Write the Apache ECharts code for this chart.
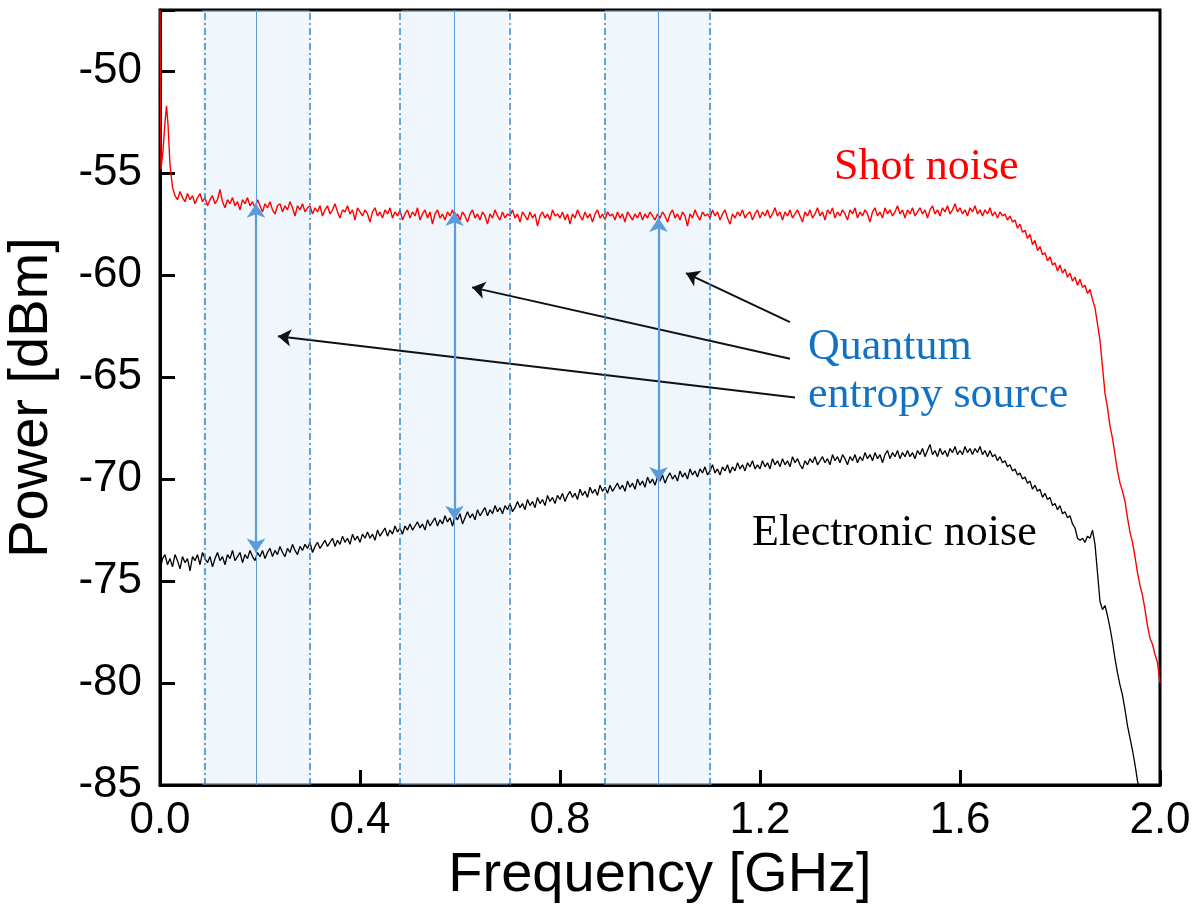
<!DOCTYPE html>
<html lang="en">
<head>
<meta charset="UTF-8">
<title>Shot noise vs electronic noise</title>
<style>
  html, body { margin: 0; padding: 0; background: #fff; }
  #app { width: 1197px; height: 913px; }
</style>
</head>
<body>
<div id="app"></div>
<script src="https://cdn.jsdelivr.net/npm/echarts@6/dist/echarts.min.js"></script>
<script>
// shot noise spectrum [GHz, dBm]
var shotNoise = [
  [0.000,-47.0],[0.002,-54.8],[0.006,-53.9],[0.010,-52.5],[0.013,-51.7],[0.016,-52.6],[0.020,-54.6],[0.025,-55.7],
  [0.030,-56.1],[0.035,-56.3],[0.040,-55.9],[0.045,-56.2],[0.050,-56.4],[0.055,-56.0],[0.060,-56.3],[0.065,-56.1],[0.070,-56.5],[0.075,-56.2],[0.080,-56.0],[0.085,-56.4],[0.090,-56.2],[0.095,-56.6],[0.100,-56.3],
  [0.105,-56.1],[0.110,-56.5],[0.115,-56.3],[0.120,-55.8],[0.125,-56.4],[0.130,-56.7],[0.135,-56.3],[0.140,-56.5],[0.145,-56.2],[0.150,-56.6],[0.155,-56.4],[0.160,-56.8],[0.165,-56.3],[0.170,-56.5],[0.175,-56.2],[0.180,-56.6],[0.185,-56.4],[0.190,-56.7],[0.195,-56.3],[0.200,-56.6],
  [0.205,-56.9],[0.210,-56.5],[0.215,-56.7],[0.220,-56.4],[0.225,-56.8],[0.230,-57.0],[0.235,-56.6],[0.240,-56.5],[0.245,-56.9],[0.250,-56.6],[0.255,-56.8],[0.260,-56.4],[0.265,-56.7],[0.270,-57.1],[0.275,-56.6],[0.280,-56.8],[0.285,-56.5],[0.290,-56.9],[0.295,-56.7],[0.300,-56.6],
  [0.305,-57.0],[0.310,-56.7],[0.315,-56.9],[0.320,-56.6],[0.325,-57.1],[0.330,-56.8],[0.335,-56.6],[0.340,-57.0],[0.345,-56.8],[0.350,-56.5],[0.355,-56.9],[0.360,-57.2],[0.365,-56.8],[0.370,-56.9],[0.375,-56.6],[0.380,-57.0],[0.385,-56.8],[0.390,-57.3],[0.395,-56.7],[0.400,-56.9],
  [0.405,-57.1],[0.410,-56.8],[0.415,-57.0],[0.420,-57.4],[0.425,-56.9],[0.430,-56.7],[0.435,-57.1],[0.440,-56.9],[0.445,-57.2],[0.450,-56.8],[0.455,-57.0],[0.460,-56.7],[0.465,-57.2],[0.470,-56.9],[0.475,-57.1],[0.480,-56.8],[0.485,-57.3],[0.490,-57.0],[0.495,-56.8],[0.500,-57.2],
  [0.505,-56.9],[0.510,-57.1],[0.515,-56.7],[0.520,-57.3],[0.525,-57.0],[0.530,-56.8],[0.535,-57.2],[0.540,-56.9],[0.545,-57.5],[0.550,-57.0],[0.555,-56.8],[0.560,-57.2],[0.565,-57.0],[0.570,-57.3],[0.575,-56.9],[0.580,-57.1],[0.585,-56.8],[0.590,-57.2],[0.595,-57.0],[0.600,-57.3],
  [0.605,-56.9],[0.610,-57.1],[0.615,-57.4],[0.620,-57.0],[0.625,-56.8],[0.630,-57.2],[0.635,-57.0],[0.640,-57.3],[0.645,-56.9],[0.650,-57.1],[0.655,-57.5],[0.660,-57.0],[0.665,-57.2],[0.670,-56.8],[0.675,-57.1],[0.680,-57.3],[0.685,-56.9],[0.690,-57.2],[0.695,-57.0],[0.700,-57.1],
  [0.705,-56.8],[0.710,-57.2],[0.715,-57.0],[0.720,-57.4],[0.725,-56.9],[0.730,-57.1],[0.735,-57.3],[0.740,-56.9],[0.745,-57.2],[0.750,-57.0],[0.755,-57.6],[0.760,-57.1],[0.765,-56.9],[0.770,-57.2],[0.775,-57.0],[0.780,-57.3],[0.785,-56.8],[0.790,-57.1],[0.795,-57.0],[0.800,-57.2],
  [0.805,-56.9],[0.810,-57.3],[0.815,-57.0],[0.820,-57.5],[0.825,-57.0],[0.830,-57.2],[0.835,-56.8],[0.840,-57.1],[0.845,-57.3],[0.850,-56.9],[0.855,-57.2],[0.860,-57.0],[0.865,-57.4],[0.870,-57.0],[0.875,-56.8],[0.880,-57.2],[0.885,-57.0],[0.890,-57.3],[0.895,-56.9],[0.900,-57.1],
  [0.905,-57.0],[0.910,-57.3],[0.915,-56.9],[0.920,-57.2],[0.925,-57.0],[0.930,-57.4],[0.935,-56.9],[0.940,-57.1],[0.945,-57.3],[0.950,-57.0],[0.955,-57.2],[0.960,-56.9],[0.965,-57.3],[0.970,-57.0],[0.975,-57.2],[0.980,-56.9],[0.985,-57.1],[0.990,-57.3],[0.995,-57.0],[1.000,-57.2],
  [1.005,-56.9],[1.010,-57.1],[1.015,-57.4],[1.020,-57.0],[1.025,-56.8],[1.030,-57.2],[1.035,-57.0],[1.040,-57.3],[1.045,-56.9],[1.050,-57.1],[1.055,-57.6],[1.060,-57.0],[1.065,-57.2],[1.070,-56.8],[1.075,-57.1],[1.080,-57.3],[1.085,-56.9],[1.090,-57.1],[1.095,-57.0],[1.100,-57.2],
  [1.105,-56.8],[1.110,-57.1],[1.115,-56.9],[1.120,-57.3],[1.125,-57.0],[1.130,-56.8],[1.135,-57.2],[1.140,-57.5],[1.145,-57.0],[1.150,-57.2],[1.155,-56.9],[1.160,-57.1],[1.165,-56.8],[1.170,-57.2],[1.175,-57.0],[1.180,-56.9],[1.185,-57.3],[1.190,-57.0],[1.195,-56.8],[1.200,-57.2],
  [1.205,-56.9],[1.210,-57.1],[1.215,-56.8],[1.220,-57.2],[1.225,-57.0],[1.230,-56.7],[1.235,-57.1],[1.240,-56.9],[1.245,-57.3],[1.250,-56.9],[1.255,-57.1],[1.260,-56.8],[1.265,-57.2],[1.270,-57.0],[1.275,-56.8],[1.280,-57.1],[1.285,-57.4],[1.290,-56.9],[1.295,-57.1],[1.300,-56.8],
  [1.305,-57.2],[1.310,-57.0],[1.315,-56.7],[1.320,-57.1],[1.325,-56.9],[1.330,-57.3],[1.335,-56.8],[1.340,-57.0],[1.345,-56.7],[1.350,-57.2],[1.355,-56.9],[1.360,-57.1],[1.365,-56.8],[1.370,-57.0],[1.375,-57.3],[1.380,-56.8],[1.385,-57.0],[1.390,-56.7],[1.395,-57.2],[1.400,-56.9],
  [1.405,-57.1],[1.410,-56.8],[1.415,-57.0],[1.420,-57.4],[1.425,-56.9],[1.430,-56.7],[1.435,-57.1],[1.440,-56.9],[1.445,-57.2],[1.450,-56.7],[1.455,-57.0],[1.460,-56.8],[1.465,-57.1],[1.470,-56.9],[1.475,-56.6],[1.480,-57.0],[1.485,-56.8],[1.490,-57.2],[1.495,-56.8],[1.500,-57.0],
  [1.505,-56.7],[1.510,-57.1],[1.515,-56.9],[1.520,-56.7],[1.525,-57.0],[1.530,-56.8],[1.535,-57.2],[1.540,-56.8],[1.545,-56.6],[1.550,-57.0],[1.555,-56.8],[1.560,-57.1],[1.565,-56.7],[1.570,-56.9],[1.575,-56.6],[1.580,-57.0],[1.585,-56.8],[1.590,-56.5],[1.595,-56.9],[1.600,-56.7],
  [1.605,-57.0],[1.610,-56.8],[1.615,-57.1],[1.620,-56.7],[1.625,-56.9],[1.630,-56.6],[1.635,-57.0],[1.640,-56.8],[1.645,-57.1],[1.650,-56.8],[1.655,-57.0],[1.660,-56.7],[1.665,-57.1],[1.670,-56.9],[1.675,-57.2],[1.680,-56.9],[1.685,-57.1],[1.690,-57.0],[1.695,-57.3],[1.700,-57.1],
  [1.705,-57.4],[1.710,-57.3],[1.715,-57.7],[1.720,-57.5],[1.725,-57.9],[1.730,-57.8],[1.735,-58.2],[1.740,-58.0],[1.745,-58.5],[1.750,-58.3],[1.755,-58.8],[1.760,-58.6],[1.765,-59.0],[1.770,-58.9],[1.775,-59.3],[1.780,-59.1],[1.785,-59.5],[1.790,-59.4],[1.795,-59.8],[1.800,-59.5],
  [1.805,-59.9],[1.810,-59.7],[1.815,-60.1],[1.820,-59.9],[1.825,-60.3],[1.830,-60.1],[1.835,-60.5],[1.840,-60.2],[1.845,-60.6],[1.850,-60.5],[1.855,-60.9],[1.860,-60.7],[1.865,-61.2],[1.870,-61.6],[1.875,-62.4],[1.880,-63.2],[1.885,-64.5],[1.890,-65.8],[1.895,-66.5],[1.900,-67.4],
  [1.905,-68.0],[1.910,-68.8],[1.915,-69.6],[1.920,-70.2],[1.925,-70.6],[1.930,-71.1],[1.935,-71.9],[1.940,-72.6],[1.945,-73.1],[1.950,-73.8],[1.955,-74.6],[1.960,-75.2],[1.965,-75.7],[1.970,-76.4],[1.975,-77.2],[1.980,-77.8],[1.985,-78.1],[1.990,-78.6],[1.995,-79.0],[2.000,-80.0]
];

// electronic noise spectrum [GHz, dBm]
var electronicNoise = [
  [0.000,-74.5],[0.005,-73.9],[0.010,-73.7],[0.015,-74.2],[0.020,-73.9],[0.025,-74.3],[0.030,-73.7],[0.035,-74.0],[0.040,-74.4],[0.045,-73.8],[0.050,-74.1],[0.055,-73.9],[0.060,-74.5],[0.065,-73.8],[0.070,-74.0],[0.075,-73.7],[0.080,-74.2],[0.085,-73.6],[0.090,-73.9],[0.095,-74.1],
  [0.100,-73.8],[0.105,-74.3],[0.110,-73.9],[0.115,-73.6],[0.120,-74.0],[0.125,-73.8],[0.130,-74.2],[0.135,-73.7],[0.140,-73.9],[0.145,-73.5],[0.150,-74.0],[0.155,-73.8],[0.160,-73.6],[0.165,-74.1],[0.170,-73.7],[0.175,-73.9],[0.180,-73.5],[0.185,-73.8],[0.190,-74.0],[0.195,-73.6],
  [0.200,-73.8],[0.205,-73.5],[0.210,-73.9],[0.215,-73.6],[0.220,-73.4],[0.225,-73.8],[0.230,-73.5],[0.235,-73.7],[0.240,-73.3],[0.245,-73.6],[0.250,-73.8],[0.255,-73.4],[0.260,-73.6],[0.265,-73.2],[0.270,-73.5],[0.275,-73.7],[0.280,-73.3],[0.285,-73.5],[0.290,-73.2],[0.295,-73.4],
  [0.300,-73.1],[0.305,-73.6],[0.310,-73.3],[0.315,-73.1],[0.320,-73.4],[0.325,-73.2],[0.330,-73.0],[0.335,-73.3],[0.340,-73.1],[0.345,-72.9],[0.350,-73.3],[0.355,-73.0],[0.360,-73.2],[0.365,-72.8],[0.370,-73.1],[0.375,-72.9],[0.380,-73.2],[0.385,-72.7],[0.390,-73.0],[0.395,-72.8],
  [0.400,-73.1],[0.405,-72.7],[0.410,-72.9],[0.415,-72.6],[0.420,-72.9],[0.425,-72.7],[0.430,-73.0],[0.435,-72.5],[0.440,-72.8],[0.445,-72.6],[0.450,-72.4],[0.455,-72.8],[0.460,-72.5],[0.465,-72.7],[0.470,-72.3],[0.475,-72.6],[0.480,-72.4],[0.485,-72.7],[0.490,-72.3],[0.495,-72.5],
  [0.500,-72.2],[0.505,-72.5],[0.510,-72.3],[0.515,-72.1],[0.520,-72.4],[0.525,-72.2],[0.530,-72.5],[0.535,-72.0],[0.540,-72.3],[0.545,-72.1],[0.550,-71.9],[0.555,-72.3],[0.560,-72.0],[0.565,-72.2],[0.570,-71.8],[0.575,-72.1],[0.580,-71.9],[0.585,-72.3],[0.590,-71.8],[0.595,-72.0],
  [0.600,-71.7],[0.605,-72.2],[0.610,-71.9],[0.615,-71.6],[0.620,-71.9],[0.625,-71.7],[0.630,-72.0],[0.635,-71.5],[0.640,-71.8],[0.645,-71.6],[0.650,-71.4],[0.655,-71.8],[0.660,-71.5],[0.665,-71.7],[0.670,-71.3],[0.675,-71.6],[0.680,-71.4],[0.685,-71.7],[0.690,-71.3],[0.695,-71.5],
  [0.700,-71.2],[0.705,-71.6],[0.710,-71.4],[0.715,-71.1],[0.720,-71.4],[0.725,-71.2],[0.730,-71.5],[0.735,-71.0],[0.740,-71.3],[0.745,-71.1],[0.750,-71.4],[0.755,-70.9],[0.760,-71.2],[0.765,-71.0],[0.770,-71.3],[0.775,-70.8],[0.780,-71.1],[0.785,-70.9],[0.790,-71.2],[0.795,-70.8],
  [0.800,-71.0],[0.805,-70.7],[0.810,-71.1],[0.815,-70.8],[0.820,-70.6],[0.825,-70.9],[0.830,-70.7],[0.835,-71.0],[0.840,-70.5],[0.845,-70.8],[0.850,-70.6],[0.855,-70.9],[0.860,-70.4],[0.865,-70.7],[0.870,-70.5],[0.875,-70.8],[0.880,-70.3],[0.885,-70.6],[0.890,-70.4],[0.895,-70.7],
  [0.900,-70.3],[0.905,-70.6],[0.910,-70.4],[0.915,-70.2],[0.920,-70.5],[0.925,-70.3],[0.930,-70.6],[0.935,-70.1],[0.940,-70.4],[0.945,-70.2],[0.950,-70.5],[0.955,-70.0],[0.960,-70.3],[0.965,-70.1],[0.970,-70.4],[0.975,-69.9],[0.980,-70.2],[0.985,-70.0],[0.990,-70.3],[0.995,-69.9],
  [1.000,-70.1],[1.005,-69.8],[1.010,-70.2],[1.015,-69.9],[1.020,-69.7],[1.025,-70.0],[1.030,-69.8],[1.035,-70.1],[1.040,-69.6],[1.045,-69.9],[1.050,-69.7],[1.055,-70.0],[1.060,-69.5],[1.065,-69.8],[1.070,-69.6],[1.075,-69.9],[1.080,-69.5],[1.085,-69.7],[1.090,-69.4],[1.095,-69.8],
  [1.100,-69.6],[1.105,-69.3],[1.110,-69.7],[1.115,-69.5],[1.120,-69.8],[1.125,-69.4],[1.130,-69.6],[1.135,-69.3],[1.140,-69.7],[1.145,-69.4],[1.150,-69.6],[1.155,-69.2],[1.160,-69.5],[1.165,-69.3],[1.170,-69.6],[1.175,-69.2],[1.180,-69.4],[1.185,-69.1],[1.190,-69.5],[1.195,-69.3],
  [1.200,-69.5],[1.205,-69.1],[1.210,-69.4],[1.215,-69.2],[1.220,-69.5],[1.225,-69.0],[1.230,-69.3],[1.235,-69.1],[1.240,-69.4],[1.245,-69.0],[1.250,-69.3],[1.255,-69.1],[1.260,-69.4],[1.265,-68.9],[1.270,-69.2],[1.275,-69.0],[1.280,-69.3],[1.285,-69.5],[1.290,-69.1],[1.295,-69.3],
  [1.300,-69.0],[1.305,-69.2],[1.310,-68.9],[1.315,-69.3],[1.320,-69.1],[1.325,-68.9],[1.330,-69.2],[1.335,-69.0],[1.340,-69.3],[1.345,-68.8],[1.350,-69.1],[1.355,-68.9],[1.360,-69.2],[1.365,-68.8],[1.370,-69.0],[1.375,-69.3],[1.380,-68.9],[1.385,-69.1],[1.390,-68.8],[1.395,-69.2],
  [1.400,-68.9],[1.405,-69.1],[1.410,-68.7],[1.415,-69.0],[1.420,-68.8],[1.425,-69.1],[1.430,-68.7],[1.435,-69.0],[1.440,-68.8],[1.445,-69.2],[1.450,-68.8],[1.455,-68.6],[1.460,-69.0],[1.465,-68.7],[1.470,-68.9],[1.475,-68.6],[1.480,-69.0],[1.485,-68.7],[1.490,-68.9],[1.495,-68.6],
  [1.500,-68.9],[1.505,-68.7],[1.510,-69.0],[1.515,-68.6],[1.520,-68.8],[1.525,-68.5],[1.530,-68.9],[1.535,-68.6],[1.540,-68.3],[1.545,-68.8],[1.550,-68.6],[1.555,-68.9],[1.560,-68.5],[1.565,-68.8],[1.570,-68.6],[1.575,-68.9],[1.580,-68.5],[1.585,-68.7],[1.590,-68.4],[1.595,-68.8],
  [1.600,-68.6],[1.605,-68.8],[1.610,-68.4],[1.615,-68.7],[1.620,-68.5],[1.625,-68.8],[1.630,-68.5],[1.635,-68.7],[1.640,-68.4],[1.645,-68.8],[1.650,-68.6],[1.655,-68.9],[1.660,-68.6],[1.665,-68.9],[1.670,-68.8],[1.675,-69.1],[1.680,-68.9],[1.685,-69.2],[1.690,-69.1],[1.695,-69.4],
  [1.700,-69.3],[1.705,-69.6],[1.710,-69.5],[1.715,-69.8],[1.720,-69.7],[1.725,-70.0],[1.730,-69.9],[1.735,-70.2],[1.740,-70.1],[1.745,-70.5],[1.750,-70.3],[1.755,-70.6],[1.760,-70.5],[1.765,-70.9],[1.770,-70.7],[1.775,-71.0],[1.780,-70.9],[1.785,-71.3],[1.790,-71.2],[1.795,-71.5],
  [1.800,-71.3],[1.805,-71.7],[1.810,-71.6],[1.815,-71.9],[1.820,-71.8],[1.825,-72.2],[1.830,-72.4],[1.835,-72.9],[1.840,-73.0],[1.845,-72.9],[1.850,-73.1],[1.855,-72.8],[1.860,-72.9],[1.865,-72.5],[1.870,-73.2],[1.875,-74.6],[1.880,-76.0],[1.885,-76.4],[1.890,-76.2],[1.895,-76.7],
  [1.900,-77.3],[1.905,-78.0],[1.910,-78.8],[1.915,-79.5],[1.920,-80.1],[1.925,-80.6],[1.930,-81.3],[1.935,-82.1],[1.940,-82.7],[1.945,-83.3],[1.950,-84.0],[1.955,-84.8],[1.960,-85.4],[1.965,-86.0]
];

// quantum entropy source bands [GHz]
var bandStart = [0.085, 0.483, 0.890];
var bandEnd = [0.299, 0.696, 1.103];
var bandCenter = [0.192, 0.589, 0.997];
// where the vertical arrows touch the two curves [dBm]
var arrowTop = [-56.5, -56.9, -57.2];
var arrowBottom = [-73.6, -72.0, -70.1];

// pointer arrows from the label to each band: [from GHz, from dBm, to GHz, to dBm]
var pointers = [
  [1.260, -62.3, 1.052, -59.9],
  [1.260, -64.1, 0.624, -60.6],
  [1.270, -66.0, 0.236, -63.0]
];

var xTicks = { min: 0, max: 2, interval: 0.4 };
var yTicks = { min: -85, max: -47, interval: 5 };

var chart = echarts.init(document.getElementById('app'));

var serif = '"Liberation Serif", "DejaVu Serif", serif';
var sans = '"Liberation Sans", Arial, sans-serif';
var blue = '#5b9bd9';

var bandAreas = bandStart.map(function (s, i) {
  return [{ xAxis: s }, { xAxis: bandEnd[i] }];
});

var edgeLines = bandStart.concat(bandEnd).map(function (x) {
  return { xAxis: x };
});

var centerLines = bandCenter.map(function (x) {
  return [{ coord: [x, yTicks.max] }, { coord: [x, yTicks.min] }];
});

var vArrows = bandCenter.map(function (x, i) {
  return [{ coord: [x, arrowTop[i]] }, { coord: [x, arrowBottom[i]] }];
});

var pointerLines = pointers.map(function (p) {
  return [{ coord: [p[0], p[1]] }, { coord: [p[2], p[3]] }];
});

var option = {
  animation: false,
  backgroundColor: '#fff',
  grid: {
    left: 160,
    right: 37,
    top: 10,
    bottom: 128,
    outerBoundsMode: 'none',
    containLabel: false,
    show: true,
    borderColor: '#000',
    borderWidth: 3,
    backgroundColor: 'transparent'
  },
  xAxis: {
    type: 'value',
    min: xTicks.min,
    max: xTicks.max,
    interval: xTicks.interval,
    name: 'Frequency [GHz]',
    nameLocation: 'middle',
    nameGap: 52,
    nameTextStyle: { fontFamily: sans, fontSize: 56, color: '#000' },
    axisLine: { show: true, lineStyle: { color: '#000', width: 3 } },
    axisTick: { show: true, inside: true, length: 15, lineStyle: { color: '#000', width: 3 } },
    axisLabel: {
      margin: 14,
      fontFamily: sans,
      fontSize: 44,
      color: '#000',
      formatter: function (v) { return v.toFixed(1); }
    },
    splitLine: { show: false }
  },
  yAxis: {
    type: 'value',
    min: yTicks.min,
    max: yTicks.max,
    interval: yTicks.interval,
    name: 'Power [dBm]',
    nameLocation: 'middle',
    nameGap: 100,
    nameTextStyle: { fontFamily: sans, fontSize: 56, color: '#000' },
    axisLine: { show: true, lineStyle: { color: '#000', width: 3 } },
    axisTick: { show: true, inside: true, length: 15, lineStyle: { color: '#000', width: 3 } },
    axisLabel: {
      margin: 18,
      fontFamily: sans,
      fontSize: 44,
      color: '#000',
      formatter: function (v) { return v % 5 === 0 ? String(v) : ''; }
    },
    splitLine: { show: false }
  },
  series: [
    {
      name: 'Shot noise',
      type: 'line',
      data: shotNoise,
      showSymbol: false,
      z: 2,
      lineStyle: { color: '#ff0000', width: 1.4 }
    },
    {
      name: 'Electronic noise',
      type: 'line',
      data: electronicNoise,
      showSymbol: false,
      z: 2,
      lineStyle: { color: '#000', width: 1.3 }
    },
    {
      // black pointer arrows
      type: 'line',
      data: [],
      z: 3,
      markLine: {
        silent: true,
        symbol: ['none', 'arrow'],
        symbolSize: 13,
        label: { show: false },
        lineStyle: { color: '#111', width: 2, type: 'solid' },
        data: pointerLines
      }
    },
    {
      // shaded bands, drawn over the curves so they look faded
      type: 'line',
      data: [],
      z: 4,
      markArea: {
        silent: true,
        itemStyle: { color: 'rgba(211,230,246,0.37)' },
        data: bandAreas
      }
    },
    {
      type: 'line',
      data: [],
      z: 5,
      markLine: {
        silent: true,
        symbol: 'none',
        label: { show: false },
        lineStyle: { color: '#2f86d6', width: 1.5, type: [7, 3, 2, 3] },
        data: edgeLines
      }
    },
    {
      type: 'line',
      data: [],
      z: 5,
      markLine: {
        silent: true,
        symbol: 'none',
        label: { show: false },
        lineStyle: { color: blue, width: 1, type: 'solid' },
        data: centerLines
      }
    },
    {
      type: 'line',
      data: [],
      z: 6,
      markLine: {
        silent: true,
        symbol: ['arrow', 'arrow'],
        symbolSize: 14,
        label: { show: false },
        lineStyle: { color: blue, width: 2.2, type: 'solid' },
        data: vArrows
      }
    }
  ],
  graphic: [
    {
      type: 'text', x: 834, y: 167, z: 10,
      style: { text: 'Shot noise', fill: '#ff0000', font: '44px ' + serif, verticalAlign: 'middle' }
    },
    {
      type: 'text', x: 808, y: 347, z: 10,
      style: { text: 'Quantum', fill: '#1172c4', font: '44px ' + serif, verticalAlign: 'middle' }
    },
    {
      type: 'text', x: 808, y: 395, z: 10,
      style: { text: 'entropy source', fill: '#1172c4', font: '44px ' + serif, verticalAlign: 'middle' }
    },
    {
      type: 'text', x: 752, y: 533, z: 10,
      style: { text: 'Electronic noise', fill: '#000', font: '44px ' + serif, verticalAlign: 'middle' }
    }
  ]
};

chart.setOption(option);
</script>
</body>
</html>
